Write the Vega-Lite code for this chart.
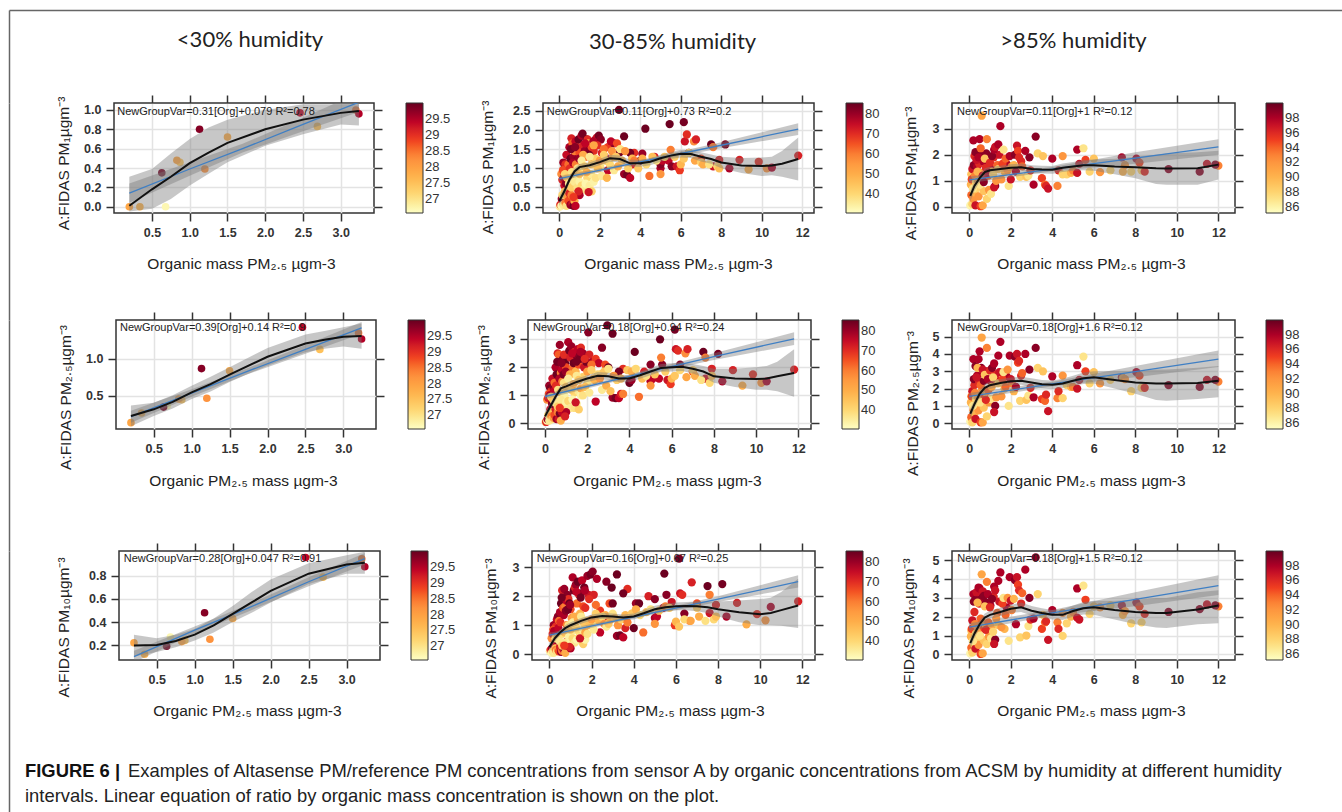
{"$schema":"https://vega.github.io/schema/vega-lite/v6.json","padding":{"left":9,"top":10,"right":0,"bottom":0},"background":"white","bounds":"flush","spacing":0,
"resolve":{"scale":{"color":"independent"},"legend":{"color":"independent"}},
"config":{"font":"Liberation Sans","view":{"stroke":"#333","strokeWidth":1.5},"axis":{"domain":false,"grid":true,"gridColor":"#e3e3e3","gridWidth":1.5,"tickColor":"#333","tickWidth":1.5,"tickSize":8,"labelFontSize":12.5,"labelFontWeight":"bold","labelColor":"#333","labelPadding":5,"labelOverlap":false,"labelFlush":false,"titleFontSize":15.5,"titleFontWeight":"normal","titleColor":"#222","titleBaseline":"middle","titleAlign":"center"},"legend":{"orient":"none","gradientLength":110,"gradientThickness":17,"gradientStrokeColor":"#333","gradientStrokeWidth":1,"labelFontSize":13,"labelColor":"#333","labelOffset":6,"padding":0}},
"datasets":{
"low":[{"org":0.2,"rh":27.9,"pm1":0.0,"pm25":0.14,"pm10":0.22},{"org":0.34,"rh":27.7,"pm1":0.0,"pm25":0.27,"pm10":0.12},{"org":0.68,"rh":26.7,"pm1":0.0,"pm25":0.37,"pm10":0.27},{"org":0.63,"rh":29.9,"pm1":0.35,"pm25":0.35,"pm10":0.19},{"org":0.87,"rh":27.4,"pm1":0.46,"pm25":0.45,"pm10":0.24},{"org":0.83,"rh":27.9,"pm1":0.48,"pm25":0.46,"pm10":0.23},{"org":1.13,"rh":29.8,"pm1":0.8,"pm25":0.87,"pm10":0.48},{"org":1.2,"rh":28.2,"pm1":0.39,"pm25":0.47,"pm10":0.25},{"org":1.5,"rh":27.8,"pm1":0.72,"pm25":0.84,"pm10":0.43},{"org":2.46,"rh":29.4,"pm1":0.97,"pm25":1.43,"pm10":0.96},{"org":2.69,"rh":27.5,"pm1":0.83,"pm25":1.13,"pm10":0.79},{"org":3.2,"rh":28.5,"pm1":1.0,"pm25":1.35,"pm10":0.95},{"org":3.24,"rh":29.5,"pm1":0.96,"pm25":1.27,"pm10":0.88}],
"mid":[{"org":0.02,"rh":35,"pm1":0,"pm25":0.05,"pm10":0.1},{"org":0.05,"rh":70,"pm1":0.05,"pm25":0.05,"pm10":0.15},{"org":0.1,"rh":33,"pm1":0.02,"pm25":0.1,"pm10":0.05},{"org":0.12,"rh":80,"pm1":0.2,"pm25":0.15,"pm10":0.2},{"org":0.15,"rh":40,"pm1":0.3,"pm25":0.3,"pm10":0.1},{"org":0.2,"rh":36,"pm1":0.05,"pm25":0.1,"pm10":0.05},{"org":0.25,"rh":75,"pm1":0.55,"pm25":0.5,"pm10":0.35},{"org":0.28,"rh":45,"pm1":0.4,"pm25":0.4,"pm10":0.2},{"org":0.3,"rh":60,"pm1":0.1,"pm25":0.25,"pm10":0.15},{"org":0.35,"rh":38,"pm1":0.02,"pm25":0.15,"pm10":0.1},{"org":0.4,"rh":55,"pm1":0.25,"pm25":0.2,"pm10":0.15},{"org":0.45,"rh":66,"pm1":0.15,"pm25":0.3,"pm10":0.1},{"org":0.5,"rh":72,"pm1":0.35,"pm25":0.5,"pm10":0.25},{"org":0.55,"rh":80,"pm1":0.05,"pm25":0.15,"pm10":0.08},{"org":0.6,"rh":60,"pm1":0.3,"pm25":0.4,"pm10":0.12},{"org":0.65,"rh":74,"pm1":0.08,"pm25":0.15,"pm10":0.18},{"org":0.7,"rh":84,"pm1":0.02,"pm25":0.35,"pm10":0.22},{"org":0.75,"rh":50,"pm1":0.15,"pm25":0.1,"pm10":0.05},{"org":0.8,"rh":76,"pm1":0.02,"pm25":0.4,"pm10":0.3},{"org":0.85,"rh":70,"pm1":0.5,"pm25":0.7,"pm10":0.45},{"org":0.1,"rh":58,"pm1":0.85,"pm25":0.85,"pm10":0.55},{"org":0.15,"rh":72,"pm1":0.7,"pm25":0.9,"pm10":0.7},{"org":0.2,"rh":80,"pm1":1.15,"pm25":1.35,"pm10":1.0},{"org":0.25,"rh":84,"pm1":1.0,"pm25":1.25,"pm10":0.9},{"org":0.3,"rh":70,"pm1":1.1,"pm25":1.15,"pm10":0.95},{"org":0.35,"rh":75,"pm1":1.35,"pm25":1.6,"pm10":1.2},{"org":0.4,"rh":82,"pm1":0.95,"pm25":1.3,"pm10":1.3},{"org":0.45,"rh":62,"pm1":1.1,"pm25":1.45,"pm10":1.15},{"org":0.5,"rh":78,"pm1":1.55,"pm25":2.0,"pm10":1.45},{"org":0.55,"rh":85,"pm1":1.25,"pm25":1.75,"pm10":1.75},{"org":0.6,"rh":72,"pm1":1.78,"pm25":2.5,"pm10":2.2},{"org":0.65,"rh":64,"pm1":1.65,"pm25":2.45,"pm10":1.6},{"org":0.7,"rh":80,"pm1":1.3,"pm25":2.8,"pm10":2.25},{"org":0.75,"rh":60,"pm1":1.45,"pm25":1.8,"pm10":1.65},{"org":0.8,"rh":76,"pm1":1.7,"pm25":1.9,"pm10":1.85},{"org":0.85,"rh":82,"pm1":1.2,"pm25":2.3,"pm10":2.05},{"org":0.9,"rh":70,"pm1":1.55,"pm25":2.45,"pm10":1.9},{"org":0.95,"rh":85,"pm1":1.75,"pm25":2.15,"pm10":1.75},{"org":1.0,"rh":66,"pm1":1.4,"pm25":2.0,"pm10":1.55},{"org":1.05,"rh":56,"pm1":1.15,"pm25":1.6,"pm10":1.25},{"org":1.1,"rh":78,"pm1":1.85,"pm25":2.9,"pm10":2.65},{"org":1.15,"rh":84,"pm1":1.9,"pm25":2.6,"pm10":2.2},{"org":1.2,"rh":72,"pm1":1.6,"pm25":2.35,"pm10":2.3},{"org":1.25,"rh":80,"pm1":1.45,"pm25":2.75,"pm10":2.4},{"org":1.3,"rh":62,"pm1":1.3,"pm25":1.95,"pm10":1.75},{"org":1.35,"rh":85,"pm1":1.75,"pm25":2.15,"pm10":2.5},{"org":1.4,"rh":70,"pm1":1.75,"pm25":2.55,"pm10":2.05},{"org":1.45,"rh":48,"pm1":1.65,"pm25":1.85,"pm10":1.4},{"org":1.5,"rh":82,"pm1":1.5,"pm25":2.4,"pm10":2.1},{"org":1.55,"rh":76,"pm1":1.3,"pm25":2.65,"pm10":2.55},{"org":1.6,"rh":66,"pm1":1.55,"pm25":2.1,"pm10":1.65},{"org":1.65,"rh":84,"pm1":1.2,"pm25":2.3,"pm10":2.3},{"org":1.7,"rh":70,"pm1":1.45,"pm25":2.7,"pm10":1.6},{"org":1.8,"rh":80,"pm1":1.75,"pm25":2.5,"pm10":2.7},{"org":1.85,"rh":74,"pm1":1.8,"pm25":2.0,"pm10":2.05},{"org":1.95,"rh":84,"pm1":1.85,"pm25":2.2,"pm10":2.75},{"org":2.05,"rh":82,"pm1":1.75,"pm25":3.25,"pm10":2.85},{"org":2.1,"rh":72,"pm1":1.4,"pm25":2.45,"pm10":2.05},{"org":2.25,"rh":78,"pm1":1.3,"pm25":2.2,"pm10":2.6},{"org":2.4,"rh":68,"pm1":1.55,"pm25":2.3,"pm10":1.5},{"org":2.7,"rh":82,"pm1":1.65,"pm25":2.7,"pm10":2.5},{"org":2.55,"rh":76,"pm1":1.7,"pm25":2.15,"pm10":1.25},{"org":2.85,"rh":66,"pm1":1.65,"pm25":2.1,"pm10":1.75},{"org":2.95,"rh":85,"pm1":2.52,"pm25":3.5,"pm10":2.3},{"org":3.0,"rh":84,"pm1":1.42,"pm25":2.0,"pm10":1.75},{"org":3.2,"rh":85,"pm1":1.83,"pm25":3.2,"pm10":2.75},{"org":0.18,"rh":66,"pm1":0.95,"pm25":1.05,"pm10":0.85},{"org":0.22,"rh":78,"pm1":0.75,"pm25":1.0,"pm10":0.8},{"org":0.33,"rh":82,"pm1":0.6,"pm25":0.7,"pm10":0.5},{"org":0.42,"rh":76,"pm1":0.85,"pm25":1.15,"pm10":0.9},{"org":0.52,"rh":70,"pm1":1.0,"pm25":1.35,"pm10":1.1},{"org":0.58,"rh":84,"pm1":1.5,"pm25":2.2,"pm10":1.95},{"org":0.68,"rh":78,"pm1":1.15,"pm25":1.6,"pm10":1.35},{"org":0.78,"rh":82,"pm1":1.55,"pm25":2.15,"pm10":1.5},{"org":0.82,"rh":60,"pm1":1.1,"pm25":1.5,"pm10":1.0},{"org":0.88,"rh":84,"pm1":0.95,"pm25":1.75,"pm10":1.55},{"org":0.98,"rh":80,"pm1":1.25,"pm25":1.85,"pm10":1.7},{"org":1.28,"rh":76,"pm1":1.65,"pm25":2.5,"pm10":2.15},{"org":1.48,"rh":84,"pm1":1.35,"pm25":2.2,"pm10":1.95},{"org":1.68,"rh":78,"pm1":1.7,"pm25":2.55,"pm10":2.2},{"org":1.88,"rh":70,"pm1":1.6,"pm25":2.3,"pm10":1.9},{"org":2.2,"rh":62,"pm1":1.5,"pm25":2.1,"pm10":1.7},{"org":2.4,"rh":76,"pm1":0.95,"pm25":0.78,"pm10":0.75},{"org":3.2,"rh":80,"pm1":0.85,"pm25":0.92,"pm10":0.63},{"org":3.35,"rh":84,"pm1":0.83,"pm25":0.9,"pm10":0.65},{"org":3.5,"rh":76,"pm1":0.75,"pm25":0.9,"pm10":0.58},{"org":3.6,"rh":72,"pm1":1.1,"pm25":1.05,"pm10":0.9},{"org":3.7,"rh":70,"pm1":1.4,"pm25":1.95,"pm10":2.25},{"org":3.5,"rh":84,"pm1":1.4,"pm25":1.85,"pm10":2.1},{"org":4.0,"rh":85,"pm1":1.2,"pm25":1.45,"pm10":0.9},{"org":4.1,"rh":80,"pm1":1.38,"pm25":1.55,"pm10":1.75},{"org":4.25,"rh":85,"pm1":2.03,"pm25":2.55,"pm10":1.75},{"org":4.7,"rh":72,"pm1":1.3,"pm25":1.85,"pm10":2.0},{"org":5.0,"rh":78,"pm1":1.0,"pm25":1.5,"pm10":1.25},{"org":5.0,"rh":82,"pm1":1.1,"pm25":2.1,"pm10":1.9},{"org":5.1,"rh":76,"pm1":1.2,"pm25":1.6,"pm10":1.3},{"org":5.45,"rh":85,"pm1":2.15,"pm25":3.0,"pm10":2.78},{"org":5.4,"rh":76,"pm1":1.2,"pm25":1.6,"pm10":1.6},{"org":5.55,"rh":82,"pm1":1.05,"pm25":2.1,"pm10":2.05},{"org":5.8,"rh":74,"pm1":1.05,"pm25":1.55,"pm10":1.8},{"org":5.95,"rh":68,"pm1":0.95,"pm25":1.4,"pm10":1.0},{"org":6.15,"rh":84,"pm1":2.2,"pm25":3.35,"pm10":3.3},{"org":6.2,"rh":74,"pm1":1.7,"pm25":2.65,"pm10":2.1},{"org":6.3,"rh":70,"pm1":1.88,"pm25":2.6,"pm10":2.05},{"org":6.4,"rh":82,"pm1":1.4,"pm25":2.1,"pm10":1.4},{"org":6.65,"rh":58,"pm1":1.7,"pm25":2.5,"pm10":1.15},{"org":6.75,"rh":72,"pm1":1.75,"pm25":2.65,"pm10":2.48},{"org":7.0,"rh":66,"pm1":1.25,"pm25":1.85,"pm10":1.75},{"org":7.5,"rh":85,"pm1":1.62,"pm25":2.55,"pm10":2.35},{"org":7.6,"rh":60,"pm1":1.55,"pm25":2.35,"pm10":2.05},{"org":7.6,"rh":74,"pm1":1.05,"pm25":1.6,"pm10":1.42},{"org":7.9,"rh":72,"pm1":1.22,"pm25":1.95,"pm10":1.7},{"org":8.2,"rh":84,"pm1":1.62,"pm25":2.48,"pm10":2.42},{"org":8.4,"rh":78,"pm1":1.0,"pm25":1.5,"pm10":1.3},{"org":8.9,"rh":72,"pm1":1.22,"pm25":1.9,"pm10":1.77},{"org":9.35,"rh":50,"pm1":0.97,"pm25":1.35,"pm10":1.03},{"org":9.85,"rh":70,"pm1":1.17,"pm25":1.75,"pm10":1.38},{"org":10.25,"rh":56,"pm1":1.0,"pm25":1.45,"pm10":1.17},{"org":10.5,"rh":78,"pm1":1.02,"pm25":1.5,"pm10":1.63},{"org":11.8,"rh":72,"pm1":1.33,"pm25":1.92,"pm10":1.82},{"org":0.28,"rh":40,"pm1":0.85,"pm25":0.95,"pm10":0.55},{"org":0.38,"rh":44,"pm1":0.75,"pm25":0.85,"pm10":0.6},{"org":0.48,"rh":36,"pm1":0.6,"pm25":0.75,"pm10":0.45},{"org":0.62,"rh":38,"pm1":0.9,"pm25":1.2,"pm10":0.7},{"org":0.72,"rh":46,"pm1":0.8,"pm25":1.1,"pm10":0.75},{"org":0.92,"rh":34,"pm1":0.75,"pm25":1.0,"pm10":0.6},{"org":1.08,"rh":36,"pm1":0.9,"pm25":1.25,"pm10":0.8},{"org":1.18,"rh":50,"pm1":1.35,"pm25":1.75,"pm10":1.3},{"org":1.38,"rh":40,"pm1":0.75,"pm25":1.1,"pm10":0.8},{"org":1.58,"rh":36,"pm1":0.85,"pm25":1.15,"pm10":0.85},{"org":1.78,"rh":42,"pm1":1.25,"pm25":1.65,"pm10":1.15},{"org":2.02,"rh":38,"pm1":1.05,"pm25":1.45,"pm10":1.1},{"org":2.3,"rh":46,"pm1":1.2,"pm25":1.6,"pm10":1.25},{"org":2.65,"rh":50,"pm1":1.3,"pm25":1.75,"pm10":1.35},{"org":0.6,"rh":42,"pm1":0.5,"pm25":0.6,"pm10":0.3},{"org":0.75,"rh":36,"pm1":0.65,"pm25":0.85,"pm10":0.4},{"org":0.9,"rh":38,"pm1":0.5,"pm25":0.6,"pm10":0.35},{"org":1.0,"rh":34,"pm1":0.65,"pm25":0.75,"pm10":0.5},{"org":1.1,"rh":40,"pm1":0.55,"pm25":0.8,"pm10":0.55},{"org":1.2,"rh":36,"pm1":0.45,"pm25":0.55,"pm10":0.4},{"org":1.3,"rh":33,"pm1":0.6,"pm25":0.85,"pm10":0.5},{"org":1.4,"rh":38,"pm1":0.4,"pm25":0.55,"pm10":0.6},{"org":1.5,"rh":35,"pm1":0.55,"pm25":0.7,"pm10":0.45},{"org":1.6,"rh":42,"pm1":0.4,"pm25":0.5,"pm10":0.35},{"org":1.7,"rh":34,"pm1":0.65,"pm25":1.0,"pm10":0.5},{"org":1.45,"rh":74,"pm1":0.38,"pm25":0.75,"pm10":0.55},{"org":1.0,"rh":78,"pm1":0.3,"pm25":0.4,"pm10":0.2},{"org":0.95,"rh":72,"pm1":0.4,"pm25":0.25,"pm10":0.25},{"org":0.7,"rh":68,"pm1":0.25,"pm25":0.55,"pm10":0.3},{"org":0.9,"rh":38,"pm1":1.0,"pm25":1.45,"pm10":1.0},{"org":1.0,"rh":46,"pm1":0.85,"pm25":1.3,"pm10":0.85},{"org":1.1,"rh":35,"pm1":1.2,"pm25":1.6,"pm10":1.1},{"org":1.25,"rh":42,"pm1":1.05,"pm25":1.2,"pm10":0.95},{"org":1.35,"rh":50,"pm1":0.9,"pm25":1.4,"pm10":1.2},{"org":1.5,"rh":36,"pm1":1.3,"pm25":1.7,"pm10":1.3},{"org":1.6,"rh":44,"pm1":1.1,"pm25":1.55,"pm10":1.1},{"org":1.7,"rh":52,"pm1":1.6,"pm25":1.25,"pm10":0.75},{"org":1.8,"rh":38,"pm1":0.75,"pm25":1.0,"pm10":0.7},{"org":1.9,"rh":46,"pm1":1.0,"pm25":1.3,"pm10":1.0},{"org":2.0,"rh":54,"pm1":1.2,"pm25":1.85,"pm10":1.2},{"org":2.1,"rh":36,"pm1":0.8,"pm25":1.1,"pm10":0.85},{"org":2.2,"rh":42,"pm1":1.35,"pm25":1.9,"pm10":1.4},{"org":2.35,"rh":48,"pm1":0.75,"pm25":1.55,"pm10":1.15},{"org":2.5,"rh":40,"pm1":1.1,"pm25":1.75,"pm10":1.3},{"org":2.6,"rh":56,"pm1":1.45,"pm25":1.6,"pm10":1.05},{"org":2.7,"rh":36,"pm1":0.95,"pm25":1.2,"pm10":0.95},{"org":2.8,"rh":44,"pm1":1.3,"pm25":1.85,"pm10":1.05},{"org":2.9,"rh":50,"pm1":1.05,"pm25":1.35,"pm10":1.2},{"org":3.0,"rh":38,"pm1":1.5,"pm25":1.95,"pm10":1.4},{"org":3.1,"rh":46,"pm1":1.2,"pm25":1.15,"pm10":1.25},{"org":3.25,"rh":56,"pm1":1.45,"pm25":1.7,"pm10":1.0},{"org":3.4,"rh":42,"pm1":1.0,"pm25":1.55,"pm10":1.2},{"org":3.6,"rh":48,"pm1":1.25,"pm25":1.6,"pm10":1.35},{"org":3.7,"rh":60,"pm1":1.2,"pm25":1.05,"pm10":1.1},{"org":3.9,"rh":44,"pm1":1.0,"pm25":1.9,"pm10":1.4},{"org":4.1,"rh":50,"pm1":1.25,"pm25":1.85,"pm10":1.55},{"org":4.3,"rh":40,"pm1":1.1,"pm25":1.95,"pm10":1.35},{"org":4.45,"rh":62,"pm1":0.8,"pm25":0.95,"pm10":0.75},{"org":4.6,"rh":46,"pm1":1.3,"pm25":1.6,"pm10":1.45},{"org":4.8,"rh":38,"pm1":1.2,"pm25":1.7,"pm10":1.55},{"org":5.0,"rh":56,"pm1":0.85,"pm25":1.35,"pm10":1.05},{"org":5.2,"rh":44,"pm1":1.3,"pm25":1.75,"pm10":1.5},{"org":5.5,"rh":60,"pm1":1.48,"pm25":2.35,"pm10":1.65},{"org":5.7,"rh":42,"pm1":1.3,"pm25":1.85,"pm10":1.6},{"org":6.0,"rh":48,"pm1":1.1,"pm25":1.6,"pm10":1.12},{"org":6.15,"rh":44,"pm1":1.25,"pm25":1.7,"pm10":0.95},{"org":6.4,"rh":40,"pm1":1.4,"pm25":1.9,"pm10":1.2},{"org":6.7,"rh":52,"pm1":1.2,"pm25":1.65,"pm10":1.15},{"org":7.0,"rh":42,"pm1":1.15,"pm25":1.9,"pm10":1.6},{"org":7.1,"rh":50,"pm1":1.1,"pm25":1.7,"pm10":1.3},{"org":7.4,"rh":38,"pm1":1.1,"pm25":1.55,"pm10":1.15},{"org":7.8,"rh":40,"pm1":1.05,"pm25":1.45,"pm10":1.2},{"org":7.9,"rh":46,"pm1":1.0,"pm25":1.7,"pm10":1.3}],
"high":[{"org":0.05,"rh":86,"pm1":0.05,"pm25":0.1,"pm10":0.05},{"org":0.1,"rh":94,"pm1":0.45,"pm25":0.35,"pm10":0.35},{"org":0.15,"rh":88,"pm1":0.1,"pm25":0.05,"pm10":0.1},{"org":0.2,"rh":92,"pm1":0.3,"pm25":0.75,"pm10":0.6},{"org":0.25,"rh":90,"pm1":0.55,"pm25":0.6,"pm10":0.5},{"org":0.3,"rh":97,"pm1":0.05,"pm25":0.25,"pm10":0.3},{"org":0.35,"rh":88,"pm1":0.7,"pm25":1.05,"pm10":0.85},{"org":0.45,"rh":92,"pm1":0.4,"pm25":0.75,"pm10":0.5},{"org":0.55,"rh":95,"pm1":0.02,"pm25":0.05,"pm10":0.02},{"org":0.65,"rh":91,"pm1":0.05,"pm25":0.05,"pm10":0.05},{"org":0.7,"rh":89,"pm1":0.6,"pm25":0.9,"pm10":0.75},{"org":0.85,"rh":88,"pm1":0.3,"pm25":0.4,"pm10":0.55},{"org":0.95,"rh":92,"pm1":0.65,"pm25":1.2,"pm10":0.95},{"org":1.05,"rh":87,"pm1":0.5,"pm25":1.4,"pm10":0.85},{"org":1.25,"rh":99,"pm1":0.8,"pm25":1.0,"pm10":0.78},{"org":1.2,"rh":97,"pm1":0.75,"pm25":0.65,"pm10":0.55},{"org":0.1,"rh":89,"pm1":1.25,"pm25":1.55,"pm10":1.25},{"org":0.15,"rh":97,"pm1":1.45,"pm25":1.85,"pm10":1.8},{"org":0.2,"rh":92,"pm1":1.1,"pm25":1.5,"pm10":1.3},{"org":0.25,"rh":96,"pm1":1.95,"pm25":2.2,"pm10":2.25},{"org":0.08,"rh":90,"pm1":0.85,"pm25":1.2,"pm10":0.95},{"org":0.12,"rh":95,"pm1":1.05,"pm25":1.55,"pm10":1.35},{"org":0.18,"rh":87,"pm1":0.7,"pm25":1.0,"pm10":0.7},{"org":0.22,"rh":99,"pm1":1.6,"pm25":2.55,"pm10":2.8},{"org":0.28,"rh":93,"pm1":1.2,"pm25":1.75,"pm10":1.6},{"org":0.32,"rh":88,"pm1":0.95,"pm25":1.4,"pm10":1.1},{"org":0.38,"rh":98,"pm1":1.55,"pm25":2.75,"pm10":2.95},{"org":0.42,"rh":91,"pm1":1.0,"pm25":1.5,"pm10":1.3},{"org":0.48,"rh":96,"pm1":1.65,"pm25":2.4,"pm10":2.7},{"org":0.52,"rh":87,"pm1":0.85,"pm25":1.2,"pm10":1.0},{"org":0.58,"rh":99,"pm1":2.0,"pm25":3.2,"pm10":3.05},{"org":0.62,"rh":92,"pm1":1.3,"pm25":1.95,"pm10":1.7},{"org":0.68,"rh":98,"pm1":1.75,"pm25":2.9,"pm10":2.8},{"org":0.72,"rh":95,"pm1":1.1,"pm25":1.65,"pm10":1.4},{"org":0.78,"rh":90,"pm1":1.3,"pm25":1.8,"pm10":1.6},{"org":0.82,"rh":99,"pm1":2.05,"pm25":3.0,"pm10":2.75},{"org":0.92,"rh":94,"pm1":1.2,"pm25":1.9,"pm10":1.7},{"org":1.02,"rh":98,"pm1":1.5,"pm25":2.45,"pm10":2.6},{"org":1.08,"rh":91,"pm1":1.35,"pm25":2.1,"pm10":1.45},{"org":1.18,"rh":96,"pm1":1.9,"pm25":2.85,"pm10":3.05},{"org":1.35,"rh":94,"pm1":1.6,"pm25":2.35,"pm10":2.2},{"org":1.45,"rh":97,"pm1":2.0,"pm25":2.95,"pm10":2.8},{"org":1.7,"rh":90,"pm1":1.35,"pm25":2.0,"pm10":1.35},{"org":1.8,"rh":98,"pm1":1.65,"pm25":2.7,"pm10":2.5},{"org":2.05,"rh":93,"pm1":1.55,"pm25":2.3,"pm10":2.35},{"org":2.5,"rh":96,"pm1":1.75,"pm25":2.75,"pm10":2.7},{"org":0.2,"rh":98,"pm1":2.55,"pm25":3.7,"pm10":3.2},{"org":0.3,"rh":99,"pm1":2.1,"pm25":3.3,"pm10":2.9},{"org":0.35,"rh":97,"pm1":1.8,"pm25":2.65,"pm10":3.3},{"org":0.4,"rh":90,"pm1":1.35,"pm25":3.2,"pm10":2.75},{"org":0.45,"rh":98,"pm1":1.9,"pm25":3.7,"pm10":3.55},{"org":0.5,"rh":98,"pm1":2.6,"pm25":4.15,"pm10":3.5},{"org":0.55,"rh":94,"pm1":2.25,"pm25":2.2,"pm10":1.9},{"org":0.6,"rh":91,"pm1":3.5,"pm25":4.95,"pm10":4.25},{"org":0.65,"rh":97,"pm1":1.2,"pm25":3.1,"pm10":3.35},{"org":0.7,"rh":99,"pm1":0.95,"pm25":2.45,"pm10":3.1},{"org":0.75,"rh":89,"pm1":1.85,"pm25":2.8,"pm10":2.55},{"org":0.8,"rh":96,"pm1":1.5,"pm25":1.35,"pm10":1.3},{"org":0.85,"rh":93,"pm1":2.6,"pm25":4.35,"pm10":3.85},{"org":0.9,"rh":98,"pm1":1.3,"pm25":2.55,"pm10":3.2},{"org":1.0,"rh":96,"pm1":1.7,"pm25":3.05,"pm10":2.5},{"org":1.1,"rh":99,"pm1":1.95,"pm25":3.2,"pm10":2.95},{"org":1.2,"rh":98,"pm1":2.2,"pm25":3.45,"pm10":3.6},{"org":1.25,"rh":97,"pm1":2.3,"pm25":2.6,"pm10":3.4},{"org":1.4,"rh":98,"pm1":2.4,"pm25":3.9,"pm10":3.9},{"org":1.15,"rh":88,"pm1":1.25,"pm25":2.65,"pm10":1.2},{"org":1.3,"rh":92,"pm1":1.0,"pm25":1.5,"pm10":1.9},{"org":1.4,"rh":89,"pm1":1.45,"pm25":2.3,"pm10":1.55},{"org":1.5,"rh":98,"pm1":3.1,"pm25":4.7,"pm10":4.35},{"org":1.6,"rh":95,"pm1":1.65,"pm25":2.55,"pm10":2.7},{"org":1.55,"rh":92,"pm1":1.05,"pm25":1.55,"pm10":1.45},{"org":1.65,"rh":87,"pm1":2.2,"pm25":2.95,"pm10":3.0},{"org":1.75,"rh":94,"pm1":1.85,"pm25":2.1,"pm10":2.1},{"org":1.85,"rh":92,"pm1":1.4,"pm25":3.1,"pm10":3.0},{"org":1.9,"rh":87,"pm1":0.8,"pm25":1.0,"pm10":0.72},{"org":1.95,"rh":98,"pm1":1.95,"pm25":3.9,"pm10":4.1},{"org":2.0,"rh":97,"pm1":1.05,"pm25":2.55,"pm10":2.85},{"org":2.2,"rh":99,"pm1":2.0,"pm25":3.85,"pm10":3.95},{"org":2.15,"rh":90,"pm1":1.6,"pm25":1.85,"pm10":2.95},{"org":2.3,"rh":97,"pm1":2.35,"pm25":4.0,"pm10":4.1},{"org":2.35,"rh":95,"pm1":2.15,"pm25":3.5,"pm10":3.7},{"org":2.25,"rh":98,"pm1":1.35,"pm25":2.1,"pm10":1.6},{"org":2.4,"rh":96,"pm1":1.9,"pm25":3.6,"pm10":3.4},{"org":2.45,"rh":88,"pm1":1.15,"pm25":1.3,"pm10":0.9},{"org":2.55,"rh":94,"pm1":1.55,"pm25":2.9,"pm10":3.25},{"org":2.7,"rh":98,"pm1":2.15,"pm25":4.0,"pm10":4.5},{"org":2.75,"rh":89,"pm1":1.15,"pm25":1.35,"pm10":1.0},{"org":2.85,"rh":87,"pm1":1.2,"pm25":1.6,"pm10":1.5},{"org":2.9,"rh":99,"pm1":1.9,"pm25":3.1,"pm10":3.0},{"org":2.95,"rh":96,"pm1":1.4,"pm25":2.05,"pm10":1.85},{"org":3.1,"rh":98,"pm1":0.85,"pm25":1.5,"pm10":1.9},{"org":3.2,"rh":99,"pm1":2.7,"pm25":4.35,"pm10":5.15},{"org":3.3,"rh":88,"pm1":2.05,"pm25":3.2,"pm10":3.2},{"org":3.55,"rh":89,"pm1":1.95,"pm25":3.0,"pm10":2.1},{"org":3.5,"rh":95,"pm1":1.1,"pm25":1.4,"pm10":1.35},{"org":3.65,"rh":94,"pm1":0.85,"pm25":1.3,"pm10":1.7},{"org":3.7,"rh":96,"pm1":0.8,"pm25":1.65,"pm10":1.75},{"org":3.8,"rh":97,"pm1":0.7,"pm25":0.7,"pm10":0.77},{"org":4.0,"rh":98,"pm1":1.85,"pm25":2.7,"pm10":2.35},{"org":4.25,"rh":93,"pm1":0.8,"pm25":1.45,"pm10":1.7},{"org":4.3,"rh":96,"pm1":1.4,"pm25":1.85,"pm10":1.35},{"org":4.5,"rh":92,"pm1":1.95,"pm25":2.75,"pm10":2.2},{"org":4.5,"rh":88,"pm1":1.25,"pm25":1.45,"pm10":0.98},{"org":4.7,"rh":88,"pm1":1.25,"pm25":2.2,"pm10":1.65},{"org":4.9,"rh":90,"pm1":1.3,"pm25":2.1,"pm10":2.0},{"org":5.0,"rh":93,"pm1":1.4,"pm25":2.1,"pm10":2.25},{"org":5.2,"rh":97,"pm1":1.3,"pm25":2.0,"pm10":1.95},{"org":5.2,"rh":98,"pm1":2.2,"pm25":3.35,"pm10":3.5},{"org":5.3,"rh":97,"pm1":1.65,"pm25":2.5,"pm10":1.85},{"org":5.5,"rh":87,"pm1":2.25,"pm25":3.85,"pm10":3.65},{"org":5.6,"rh":95,"pm1":1.8,"pm25":3.0,"pm10":2.9},{"org":5.8,"rh":88,"pm1":1.35,"pm25":2.3,"pm10":2.15},{"org":6.0,"rh":89,"pm1":1.85,"pm25":2.95,"pm10":2.55},{"org":6.3,"rh":92,"pm1":1.33,"pm25":2.3,"pm10":2.5},{"org":6.8,"rh":88,"pm1":1.4,"pm25":2.5,"pm10":2.6},{"org":7.35,"rh":98,"pm1":1.9,"pm25":2.65,"pm10":2.6},{"org":7.4,"rh":90,"pm1":1.35,"pm25":2.6,"pm10":2.1},{"org":7.5,"rh":92,"pm1":1.6,"pm25":2.55,"pm10":2.3},{"org":7.8,"rh":88,"pm1":1.35,"pm25":1.85,"pm10":1.65},{"org":8.05,"rh":98,"pm1":1.85,"pm25":2.95,"pm10":2.75},{"org":8.2,"rh":95,"pm1":1.7,"pm25":2.75,"pm10":2.55},{"org":8.3,"rh":88,"pm1":1.4,"pm25":2.05,"pm10":1.7},{"org":8.45,"rh":96,"pm1":1.35,"pm25":2.05,"pm10":2.15},{"org":9.6,"rh":99,"pm1":1.45,"pm25":2.2,"pm10":2.25},{"org":11.1,"rh":99,"pm1":1.35,"pm25":2.1,"pm10":2.4},{"org":11.45,"rh":97,"pm1":1.65,"pm25":2.5,"pm10":2.65},{"org":12.0,"rh":93,"pm1":1.58,"pm25":2.4,"pm10":2.55},{"org":11.85,"rh":99,"pm1":1.62,"pm25":2.5,"pm10":2.6}],
"s1":[{"org":0.2,"s":0.01,"sl":-0.05,"sh":0.31},{"org":0.5,"s":0.18,"sl":-0.02,"sh":0.39},{"org":0.75,"s":0.31,"sl":0.08,"sh":0.55},{"org":1.0,"s":0.45,"sl":0.22,"sh":0.7},{"org":1.25,"s":0.56,"sl":0.34,"sh":0.82},{"org":1.5,"s":0.66,"sl":0.46,"sh":0.9},{"org":2.0,"s":0.8,"sl":0.63,"sh":1.0},{"org":2.5,"s":0.9,"sl":0.75,"sh":1.06},{"org":3.0,"s":0.97,"sl":0.85,"sh":1.06},{"org":3.24,"s":0.99,"sl":0.84,"sh":1.06}],
"f1":[{"org":0.2,"f":0.14,"fl":0.04,"fh":0.24},{"org":1.0,"f":0.39,"fl":0.32,"fh":0.46},{"org":1.7,"f":0.6,"fl":0.56,"fh":0.65},{"org":2.5,"f":0.85,"fl":0.78,"fh":0.92},{"org":3.24,"f":1.08,"fl":0.98,"fh":1.18}],
"s4":[{"org":0.2,"s":0.23,"sl":0.09,"sh":0.37},{"org":0.5,"s":0.32,"sl":0.23,"sh":0.41},{"org":0.75,"s":0.42,"sl":0.33,"sh":0.51},{"org":1.0,"s":0.55,"sl":0.46,"sh":0.64},{"org":1.25,"s":0.66,"sl":0.56,"sh":0.76},{"org":1.5,"s":0.79,"sl":0.69,"sh":0.89},{"org":2.0,"s":1.03,"sl":0.91,"sh":1.15},{"org":2.5,"s":1.21,"sl":1.09,"sh":1.33},{"org":2.75,"s":1.26,"sl":1.14,"sh":1.38},{"org":3.0,"s":1.3,"sl":1.17,"sh":1.43},{"org":3.24,"s":1.31,"sl":1.14,"sh":1.48}],
"f4":[{"org":0.2,"f":0.22,"fl":0.14,"fh":0.3},{"org":1.0,"f":0.54,"fl":0.49,"fh":0.59},{"org":1.7,"f":0.82,"fl":0.78,"fh":0.86},{"org":2.5,"f":1.13,"fl":1.07,"fh":1.19},{"org":3.24,"f":1.42,"fl":1.34,"fh":1.5}],
"s7":[{"org":0.2,"s":0.195,"sl":0.1,"sh":0.29},{"org":0.5,"s":0.2,"sl":0.14,"sh":0.26},{"org":0.75,"s":0.235,"sl":0.18,"sh":0.29},{"org":1.0,"s":0.29,"sl":0.24,"sh":0.34},{"org":1.25,"s":0.37,"sl":0.31,"sh":0.43},{"org":1.5,"s":0.47,"sl":0.4,"sh":0.54},{"org":1.75,"s":0.57,"sl":0.48,"sh":0.66},{"org":2.0,"s":0.67,"sl":0.57,"sh":0.77},{"org":2.5,"s":0.82,"sl":0.73,"sh":0.91},{"org":3.0,"s":0.9,"sl":0.82,"sh":0.98},{"org":3.24,"s":0.915,"sl":0.82,"sh":1.01}],
"f7":[{"org":0.2,"f":0.1,"fl":0.05,"fh":0.15},{"org":1.0,"f":0.33,"fl":0.3,"fh":0.36},{"org":1.7,"f":0.52,"fl":0.49,"fh":0.55},{"org":2.5,"f":0.75,"fl":0.71,"fh":0.79},{"org":3.24,"f":0.95,"fl":0.9,"fh":1.0}],
"s2":[{"org":0,"s":0.15,"sl":0.02,"sh":0.28},{"org":0.25,"s":0.4,"sl":0.3,"sh":0.5},{"org":0.5,"s":0.7,"sl":0.62,"sh":0.78},{"org":0.75,"s":0.92,"sl":0.84,"sh":1.0},{"org":1,"s":1.03,"sl":0.95,"sh":1.11},{"org":1.5,"s":1.08,"sl":1.0,"sh":1.16},{"org":2,"s":1.16,"sl":1.08,"sh":1.24},{"org":2.5,"s":1.26,"sl":1.17,"sh":1.35},{"org":3,"s":1.24,"sl":1.15,"sh":1.33},{"org":3.5,"s":1.13,"sl":1.04,"sh":1.22},{"org":4,"s":1.13,"sl":1.04,"sh":1.22},{"org":4.5,"s":1.17,"sl":1.08,"sh":1.26},{"org":5,"s":1.26,"sl":1.17,"sh":1.35},{"org":5.5,"s":1.33,"sl":1.24,"sh":1.42},{"org":6,"s":1.38,"sl":1.28,"sh":1.48},{"org":6.5,"s":1.37,"sl":1.27,"sh":1.47},{"org":7,"s":1.3,"sl":1.18,"sh":1.42},{"org":7.5,"s":1.24,"sl":1.12,"sh":1.36},{"org":8,"s":1.15,"sl":1.0,"sh":1.3},{"org":9,"s":1.07,"sl":0.88,"sh":1.27},{"org":10,"s":1.06,"sl":0.8,"sh":1.28},{"org":10.5,"s":1.07,"sl":0.82,"sh":1.3},{"org":11,"s":1.12,"sl":0.78,"sh":1.45},{"org":11.8,"s":1.24,"sl":0.68,"sh":1.8}],
"f2":[{"org":0,"f":0.73,"fl":0.67,"fh":0.79},{"org":4,"f":1.17,"fl":1.13,"fh":1.21},{"org":8,"f":1.6,"fl":1.52,"fh":1.68},{"org":11.8,"f":2.02,"fl":1.87,"fh":2.17}],
"s5":[{"org":0,"s":0.25,"sl":0.1,"sh":0.4},{"org":0.25,"s":0.6,"sl":0.47,"sh":0.73},{"org":0.5,"s":0.95,"sl":0.83,"sh":1.07},{"org":0.75,"s":1.25,"sl":1.13,"sh":1.37},{"org":1,"s":1.32,"sl":1.2,"sh":1.44},{"org":1.5,"s":1.48,"sl":1.36,"sh":1.6},{"org":2,"s":1.6,"sl":1.48,"sh":1.72},{"org":2.5,"s":1.7,"sl":1.57,"sh":1.83},{"org":3,"s":1.68,"sl":1.55,"sh":1.81},{"org":3.5,"s":1.6,"sl":1.47,"sh":1.73},{"org":4,"s":1.6,"sl":1.47,"sh":1.73},{"org":4.5,"s":1.72,"sl":1.59,"sh":1.85},{"org":5,"s":1.85,"sl":1.72,"sh":1.98},{"org":5.5,"s":1.98,"sl":1.84,"sh":2.12},{"org":6,"s":2.0,"sl":1.85,"sh":2.15},{"org":6.5,"s":2.02,"sl":1.87,"sh":2.17},{"org":7,"s":1.95,"sl":1.78,"sh":2.12},{"org":7.5,"s":1.85,"sl":1.65,"sh":2.05},{"org":8,"s":1.68,"sl":1.45,"sh":1.95},{"org":9,"s":1.6,"sl":1.3,"sh":1.95},{"org":10,"s":1.58,"sl":1.2,"sh":2.0},{"org":10.5,"s":1.6,"sl":1.2,"sh":2.05},{"org":11,"s":1.68,"sl":1.15,"sh":2.2},{"org":11.8,"s":1.8,"sl":0.95,"sh":2.65}],
"f5":[{"org":0,"f":0.96,"fl":0.87,"fh":1.05},{"org":4,"f":1.68,"fl":1.62,"fh":1.74},{"org":8,"f":2.38,"fl":2.26,"fh":2.5},{"org":11.8,"f":3.02,"fl":2.8,"fh":3.25}],
"s8":[{"org":0,"s":0.25,"sl":0.12,"sh":0.38},{"org":0.25,"s":0.55,"sl":0.44,"sh":0.66},{"org":0.5,"s":0.75,"sl":0.65,"sh":0.85},{"org":0.75,"s":0.9,"sl":0.8,"sh":1.0},{"org":1,"s":1.0,"sl":0.9,"sh":1.1},{"org":1.5,"s":1.15,"sl":1.05,"sh":1.25},{"org":2,"s":1.27,"sl":1.17,"sh":1.37},{"org":2.5,"s":1.32,"sl":1.22,"sh":1.42},{"org":3,"s":1.3,"sl":1.2,"sh":1.4},{"org":3.5,"s":1.27,"sl":1.17,"sh":1.37},{"org":4,"s":1.3,"sl":1.2,"sh":1.4},{"org":4.5,"s":1.42,"sl":1.31,"sh":1.53},{"org":5,"s":1.55,"sl":1.43,"sh":1.67},{"org":5.5,"s":1.62,"sl":1.5,"sh":1.74},{"org":6,"s":1.65,"sl":1.52,"sh":1.78},{"org":6.5,"s":1.66,"sl":1.52,"sh":1.8},{"org":7,"s":1.65,"sl":1.48,"sh":1.82},{"org":7.5,"s":1.62,"sl":1.42,"sh":1.82},{"org":8,"s":1.55,"sl":1.3,"sh":1.82},{"org":9,"s":1.45,"sl":1.1,"sh":1.85},{"org":10,"s":1.38,"sl":1.0,"sh":1.9},{"org":10.5,"s":1.42,"sl":1.0,"sh":1.95},{"org":11,"s":1.52,"sl":0.98,"sh":2.15},{"org":11.8,"s":1.68,"sl":0.9,"sh":2.6}],
"f8":[{"org":0,"f":0.66,"fl":0.58,"fh":0.74},{"org":4,"f":1.29,"fl":1.24,"fh":1.34},{"org":8,"f":1.9,"fl":1.8,"fh":2.0},{"org":11.8,"f":2.5,"fl":2.3,"fh":2.72}],
"s3":[{"org":0.05,"s":0.42,"sl":0.2,"sh":0.62},{"org":0.25,"s":0.8,"sl":0.62,"sh":0.98},{"org":0.5,"s":1.1,"sl":0.95,"sh":1.25},{"org":0.75,"s":1.33,"sl":1.18,"sh":1.48},{"org":1,"s":1.4,"sl":1.26,"sh":1.54},{"org":1.5,"s":1.45,"sl":1.32,"sh":1.58},{"org":2,"s":1.5,"sl":1.37,"sh":1.63},{"org":2.5,"s":1.52,"sl":1.38,"sh":1.66},{"org":3,"s":1.45,"sl":1.3,"sh":1.6},{"org":3.5,"s":1.43,"sl":1.28,"sh":1.58},{"org":4,"s":1.42,"sl":1.27,"sh":1.57},{"org":4.5,"s":1.5,"sl":1.34,"sh":1.66},{"org":5,"s":1.55,"sl":1.38,"sh":1.72},{"org":5.5,"s":1.6,"sl":1.4,"sh":1.8},{"org":6,"s":1.6,"sl":1.38,"sh":1.82},{"org":7,"s":1.55,"sl":1.25,"sh":1.85},{"org":8,"s":1.52,"sl":1.1,"sh":1.92},{"org":9,"s":1.48,"sl":0.88,"sh":2.0},{"org":9.5,"s":1.47,"sl":0.85,"sh":2.05},{"org":11,"s":1.48,"sl":0.85,"sh":2.1},{"org":12,"s":1.62,"sl":1.05,"sh":2.15}],
"f3":[{"org":0,"f":1.03,"fl":0.9,"fh":1.16},{"org":4,"f":1.45,"fl":1.37,"fh":1.53},{"org":8,"f":1.87,"fl":1.65,"fh":2.1},{"org":12,"f":2.3,"fl":2.0,"fh":2.6}],
"s6":[{"org":0.05,"s":0.55,"sl":0.25,"sh":0.85},{"org":0.25,"s":1.1,"sl":0.85,"sh":1.35},{"org":0.5,"s":1.7,"sl":1.47,"sh":1.93},{"org":0.75,"s":2.05,"sl":1.83,"sh":2.27},{"org":1,"s":2.2,"sl":1.98,"sh":2.42},{"org":1.5,"s":2.33,"sl":2.12,"sh":2.54},{"org":2,"s":2.42,"sl":2.2,"sh":2.64},{"org":2.5,"s":2.45,"sl":2.22,"sh":2.68},{"org":3,"s":2.35,"sl":2.1,"sh":2.6},{"org":3.5,"s":2.25,"sl":2.0,"sh":2.5},{"org":4,"s":2.22,"sl":1.97,"sh":2.47},{"org":4.5,"s":2.3,"sl":2.03,"sh":2.57},{"org":5,"s":2.45,"sl":2.15,"sh":2.75},{"org":5.5,"s":2.6,"sl":2.27,"sh":2.93},{"org":6,"s":2.65,"sl":2.3,"sh":3.0},{"org":7,"s":2.5,"sl":2.0,"sh":3.0},{"org":8,"s":2.35,"sl":1.7,"sh":3.0},{"org":9,"s":2.3,"sl":1.35,"sh":3.1},{"org":9.5,"s":2.3,"sl":1.3,"sh":3.1},{"org":11,"s":2.32,"sl":1.4,"sh":3.2},{"org":12,"s":2.45,"sl":1.5,"sh":3.3}],
"f6":[{"org":0,"f":1.55,"fl":1.35,"fh":1.75},{"org":4,"f":2.27,"fl":2.14,"fh":2.4},{"org":8,"f":2.98,"fl":2.65,"fh":3.3},{"org":12,"f":3.7,"fl":3.25,"fh":4.2}],
"s9":[{"org":0.05,"s":0.6,"sl":0.3,"sh":0.9},{"org":0.25,"s":1.1,"sl":0.85,"sh":1.35},{"org":0.5,"s":1.6,"sl":1.38,"sh":1.82},{"org":0.75,"s":1.95,"sl":1.73,"sh":2.17},{"org":1,"s":2.1,"sl":1.88,"sh":2.32},{"org":1.5,"s":2.25,"sl":2.03,"sh":2.47},{"org":2,"s":2.42,"sl":2.2,"sh":2.64},{"org":2.5,"s":2.5,"sl":2.25,"sh":2.75},{"org":3,"s":2.32,"sl":2.07,"sh":2.57},{"org":3.5,"s":2.2,"sl":1.95,"sh":2.45},{"org":4,"s":2.1,"sl":1.85,"sh":2.35},{"org":4.5,"s":2.1,"sl":1.82,"sh":2.38},{"org":5,"s":2.3,"sl":2.0,"sh":2.6},{"org":5.5,"s":2.45,"sl":2.12,"sh":2.78},{"org":6,"s":2.5,"sl":2.1,"sh":2.85},{"org":7,"s":2.35,"sl":1.85,"sh":2.85},{"org":8,"s":2.25,"sl":1.6,"sh":2.9},{"org":9,"s":2.2,"sl":1.42,"sh":3.0},{"org":9.5,"s":2.2,"sl":1.4,"sh":3.0},{"org":11,"s":2.38,"sl":1.6,"sh":3.3},{"org":12,"s":2.6,"sl":1.65,"sh":3.4}],
"f9":[{"org":0,"f":1.45,"fl":1.25,"fh":1.65},{"org":4,"f":2.2,"fl":2.05,"fh":2.35},{"org":8,"f":2.92,"fl":2.55,"fh":3.3},{"org":12,"f":3.65,"fl":3.15,"fh":4.2}]
},
"vconcat":[
{"width":1333,"height":93,"view":{"stroke":null},"data":{"values":[]},"mark":"point","encoding":{"x":{"field":"a","type":"quantitative","scale":{"domain":[0,1]},"axis":{"orient":"top","values":[],"labels":false,"ticks":false,"grid":false,"title":null,"domain":true,"domainColor":"#666","domainWidth":1.5}},"y":{"field":"b","type":"quantitative","scale":{"domain":[0,1]},"axis":{"values":[],"labels":false,"ticks":false,"grid":false,"title":null,"domain":true,"domainColor":"#666","domainWidth":1.5}}}},
{"bounds":"flush","spacing":0,"resolve":{"scale":{"color":"independent"},"legend":{"color":"independent"}},"hconcat":[
{"width":105,"height":110,"view":{"stroke":null},"data":{"values":[]},"mark":"point"},
{"width":260,"height":110,"title":{"text":"<30% humidity","font":"Lato","fontSize":22,"fontWeight":"normal","color":"#222","anchor":"middle","dx":6,"offset":42},"layer":[
{"data":{"name":"low"},"mark":{"type":"circle","size":58,"opacity":1},"encoding":{"x":{"field":"org","type":"quantitative","scale":{"domain":[-0.003,3.44],"nice":false,"zero":false},"axis":{"values":[0.5,1,1.5,2,2.5,3],"format":".1f","title":"Organic mass PM₂.₅ µgm-3","titleX":127,"titleY":50}},"y":{"field":"pm1","type":"quantitative","scale":{"domain":[-0.065,1.072],"nice":false,"zero":false},"axis":{"values":[0,0.2,0.4,0.6,0.8,1],"format":".1f","title":"A:FIDAS PM₁µgm⁻³","titleX":-51,"titleY":60}},"color":{"field":"rh","type":"quantitative","scale":{"domain":[26.57,30],"range":["#ffffc4","#fed976","#feb24c","#fd8d3c","#f03b20","#bd0026","#67001f"]},"legend":{"title":null,"legendX":292,"legendY":0,"format":".3~g","values":[27,27.5,28,28.5,29,29.5]}}}},
{"data":{"name":"s1"},"mark":{"type":"area","clip":true,"color":"#7a7a7a","opacity":0.42},"encoding":{"x":{"field":"org","type":"quantitative","axis":null},"y":{"field":"sl","type":"quantitative","axis":null},"y2":{"field":"sh"}}},
{"data":{"name":"f1"},"mark":{"type":"area","clip":true,"color":"#7a7a7a","opacity":0.42},"encoding":{"x":{"field":"org","type":"quantitative","axis":null},"y":{"field":"fl","type":"quantitative","axis":null},"y2":{"field":"fh"}}},
{"data":{"name":"f1"},"mark":{"type":"line","clip":true,"color":"#3f7fc4","strokeWidth":1.3},"encoding":{"x":{"field":"org","type":"quantitative","axis":{"orient":"top","values":[0.5,1,1.5,2,2.5,3],"labels":false,"grid":false,"title":null}},"y":{"field":"f","type":"quantitative","axis":{"orient":"right","values":[0,0.2,0.4,0.6,0.8,1],"labels":false,"grid":false,"title":null}}}},
{"data":{"name":"s1"},"mark":{"type":"line","clip":true,"color":"#111","strokeWidth":2},"encoding":{"x":{"field":"org","type":"quantitative","axis":null},"y":{"field":"s","type":"quantitative","axis":null}}},
{"data":{"values":[{"org":0.04,"val":0.98,"label":"NewGroupVar=0.31[Org]+0.079 R²=0.78"}]},"mark":{"type":"text","align":"left","baseline":"middle","fontSize":11,"color":"#222"},"encoding":{"x":{"field":"org","type":"quantitative","axis":null},"y":{"field":"val","type":"quantitative","axis":null},"text":{"field":"label"}}}
],"resolve":{"axis":{"x":"independent","y":"independent"}}},
{"width":169,"height":110,"view":{"stroke":null},"data":{"values":[]},"mark":"point"},
{"width":271,"height":110,"title":{"text":"30-85% humidity","font":"Lato","fontSize":22,"fontWeight":"normal","color":"#222","anchor":"middle","dx":-6,"offset":40},"layer":[
{"data":{"name":"mid"},"mark":{"type":"circle","size":68,"opacity":1},"encoding":{"x":{"field":"org","type":"quantitative","scale":{"domain":[-0.805,12.58],"nice":false,"zero":false},"axis":{"values":[0,2,4,6,8,10,12],"title":"Organic mass PM₂.₅ µgm-3","titleX":135,"titleY":50}},"y":{"field":"pm1","type":"quantitative","scale":{"domain":[-0.164,2.7],"nice":false,"zero":false},"axis":{"values":[0,0.5,1,1.5,2,2.5],"format":".1f","title":"A:FIDAS PM₁µgm⁻³","titleX":-56,"titleY":64}},"color":{"field":"rh","type":"quantitative","scale":{"domain":[30.5,85.5],"range":["#ffffc4","#fed976","#feb24c","#fd8d3c","#f03b20","#bd0026","#67001f"]},"legend":{"title":null,"legendX":303,"legendY":0,"format":".3~g","values":[40,50,60,70,80]}}}},
{"data":{"name":"s2"},"mark":{"type":"area","clip":true,"color":"#7a7a7a","opacity":0.42},"encoding":{"x":{"field":"org","type":"quantitative","axis":null},"y":{"field":"sl","type":"quantitative","axis":null},"y2":{"field":"sh"}}},
{"data":{"name":"f2"},"mark":{"type":"area","clip":true,"color":"#7a7a7a","opacity":0.42},"encoding":{"x":{"field":"org","type":"quantitative","axis":null},"y":{"field":"fl","type":"quantitative","axis":null},"y2":{"field":"fh"}}},
{"data":{"name":"f2"},"mark":{"type":"line","clip":true,"color":"#3f7fc4","strokeWidth":1.3},"encoding":{"x":{"field":"org","type":"quantitative","axis":{"orient":"top","values":[0,2,4,6,8,10,12],"labels":false,"grid":false,"title":null}},"y":{"field":"f","type":"quantitative","axis":{"orient":"right","values":[0,0.5,1,1.5,2,2.5],"labels":false,"grid":false,"title":null}}}},
{"data":{"name":"s2"},"mark":{"type":"line","clip":true,"color":"#111","strokeWidth":2},"encoding":{"x":{"field":"org","type":"quantitative","axis":null},"y":{"field":"s","type":"quantitative","axis":null}}},
{"data":{"values":[{"org":-0.62,"val":2.46,"label":"NewGroupVar=0.11[Org]+0.73 R²=0.2"}]},"mark":{"type":"text","align":"left","baseline":"middle","fontSize":11,"color":"#222"},"encoding":{"x":{"field":"org","type":"quantitative","axis":null},"y":{"field":"val","type":"quantitative","axis":null},"text":{"field":"label"}}}
],"resolve":{"axis":{"x":"independent","y":"independent"}}},
{"width":138,"height":110,"view":{"stroke":null},"data":{"values":[]},"mark":"point"},
{"width":283,"height":110,"title":{"text":">85% humidity","font":"Lato","fontSize":22,"fontWeight":"normal","color":"#222","anchor":"middle","dx":-20,"offset":41},"layer":[
{"data":{"name":"high"},"mark":{"type":"circle","size":68,"opacity":1},"encoding":{"x":{"field":"org","type":"quantitative","scale":{"domain":[-0.83,12.8],"nice":false,"zero":false},"axis":{"values":[0,2,4,6,8,10,12],"title":"Organic mass PM₂.₅ µgm-3","titleX":139,"titleY":50}},"y":{"field":"pm1","type":"quantitative","scale":{"domain":[-0.24,3.99],"nice":false,"zero":false},"axis":{"values":[0,1,2,3],"title":"A:FIDAS PM₁µgm⁻³","titleX":-42,"titleY":70}},"color":{"field":"rh","type":"quantitative","scale":{"domain":[85.2,100],"range":["#ffffc4","#fed976","#feb24c","#fd8d3c","#f03b20","#bd0026","#67001f"]},"legend":{"title":null,"legendX":314,"legendY":0,"format":".3~g","values":[86,88,90,92,94,96,98]}}}},
{"data":{"name":"s3"},"mark":{"type":"area","clip":true,"color":"#7a7a7a","opacity":0.42},"encoding":{"x":{"field":"org","type":"quantitative","axis":null},"y":{"field":"sl","type":"quantitative","axis":null},"y2":{"field":"sh"}}},
{"data":{"name":"f3"},"mark":{"type":"area","clip":true,"color":"#7a7a7a","opacity":0.42},"encoding":{"x":{"field":"org","type":"quantitative","axis":null},"y":{"field":"fl","type":"quantitative","axis":null},"y2":{"field":"fh"}}},
{"data":{"name":"f3"},"mark":{"type":"line","clip":true,"color":"#3f7fc4","strokeWidth":1.3},"encoding":{"x":{"field":"org","type":"quantitative","axis":{"orient":"top","values":[0,2,4,6,8,10,12],"labels":false,"grid":false,"title":null}},"y":{"field":"f","type":"quantitative","axis":{"orient":"right","values":[0,1,2,3],"labels":false,"grid":false,"title":null}}}},
{"data":{"name":"s3"},"mark":{"type":"line","clip":true,"color":"#111","strokeWidth":2},"encoding":{"x":{"field":"org","type":"quantitative","axis":null},"y":{"field":"s","type":"quantitative","axis":null}}},
{"data":{"values":[{"org":-0.59,"val":3.64,"label":"NewGroupVar=0.11[Org]+1 R²=0.12"}]},"mark":{"type":"text","align":"left","baseline":"middle","fontSize":11,"color":"#222"},"encoding":{"x":{"field":"org","type":"quantitative","axis":null},"y":{"field":"val","type":"quantitative","axis":null},"text":{"field":"label"}}}
],"resolve":{"axis":{"x":"independent","y":"independent"}}}
]},
{"width":10,"height":217,"view":{"stroke":null},"data":{"values":[]},"mark":"point","encoding":{"y":{"field":"b","type":"quantitative","scale":{"domain":[0,1]},"axis":{"values":[],"labels":false,"ticks":false,"grid":false,"title":null,"domain":true,"domainColor":"#666","domainWidth":1.5}}}},
{"bounds":"flush","spacing":0,"resolve":{"scale":{"color":"independent"},"legend":{"color":"independent"}},"hconcat":[
{"width":107,"height":109,"view":{"stroke":null},"data":{"values":[]},"mark":"point"},
{"width":260,"height":109,"layer":[
{"data":{"name":"low"},"mark":{"type":"circle","size":58,"opacity":1},"encoding":{"x":{"field":"org","type":"quantitative","scale":{"domain":[0.003,3.43],"nice":false,"zero":false},"axis":{"values":[0.5,1,1.5,2,2.5,3],"format":".1f","title":"Organic PM₂.₅ mass µgm-3","titleX":127,"titleY":51}},"y":{"field":"pm25","type":"quantitative","scale":{"domain":[0.054,1.527],"nice":false,"zero":false},"axis":{"values":[0.5,1],"format":".1f","title":"A:FIDAS PM₂.₅µgm⁻³","titleX":-51,"titleY":77}},"color":{"field":"rh","type":"quantitative","scale":{"domain":[26.57,30],"range":["#ffffc4","#fed976","#feb24c","#fd8d3c","#f03b20","#bd0026","#67001f"]},"legend":{"title":null,"legendX":292,"legendY":0,"format":".3~g","gradientLength":109,"values":[27,27.5,28,28.5,29,29.5]}}}},
{"data":{"name":"s4"},"mark":{"type":"area","clip":true,"color":"#7a7a7a","opacity":0.42},"encoding":{"x":{"field":"org","type":"quantitative","axis":null},"y":{"field":"sl","type":"quantitative","axis":null},"y2":{"field":"sh"}}},
{"data":{"name":"f4"},"mark":{"type":"area","clip":true,"color":"#7a7a7a","opacity":0.42},"encoding":{"x":{"field":"org","type":"quantitative","axis":null},"y":{"field":"fl","type":"quantitative","axis":null},"y2":{"field":"fh"}}},
{"data":{"name":"f4"},"mark":{"type":"line","clip":true,"color":"#3f7fc4","strokeWidth":1.3},"encoding":{"x":{"field":"org","type":"quantitative","axis":{"orient":"top","values":[0.5,1,1.5,2,2.5,3],"labels":false,"grid":false,"title":null}},"y":{"field":"f","type":"quantitative","axis":{"orient":"right","values":[0.5,1],"labels":false,"grid":false,"title":null}}}},
{"data":{"name":"s4"},"mark":{"type":"line","clip":true,"color":"#111","strokeWidth":2},"encoding":{"x":{"field":"org","type":"quantitative","axis":null},"y":{"field":"s","type":"quantitative","axis":null}}},
{"data":{"values":[{"org":0.056,"val":1.42,"label":"NewGroupVar=0.39[Org]+0.14 R²=0.9"}]},"mark":{"type":"text","align":"left","baseline":"middle","fontSize":11,"color":"#222"},"encoding":{"x":{"field":"org","type":"quantitative","axis":null},"y":{"field":"val","type":"quantitative","axis":null},"text":{"field":"label"}}}
],"resolve":{"axis":{"x":"independent","y":"independent"}}},
{"width":152,"height":109,"view":{"stroke":null},"data":{"values":[]},"mark":"point"},
{"width":283,"height":109,"layer":[
{"data":{"name":"mid"},"mark":{"type":"circle","size":68,"opacity":1},"encoding":{"x":{"field":"org","type":"quantitative","scale":{"domain":[-0.806,12.6],"nice":false,"zero":false},"axis":{"values":[0,2,4,6,8,10,12],"title":"Organic PM₂.₅ mass µgm-3","titleX":139,"titleY":51}},"y":{"field":"pm25","type":"quantitative","scale":{"domain":[-0.2,3.69],"nice":false,"zero":false},"axis":{"values":[0,1,2,3],"title":"A:FIDAS PM₂.₅µgm⁻³","titleX":-45,"titleY":77}},"color":{"field":"rh","type":"quantitative","scale":{"domain":[30.5,85.5],"range":["#ffffc4","#fed976","#feb24c","#fd8d3c","#f03b20","#bd0026","#67001f"]},"legend":{"title":null,"legendX":314,"legendY":0,"format":".3~g","gradientLength":109,"values":[40,50,60,70,80]}}}},
{"data":{"name":"s5"},"mark":{"type":"area","clip":true,"color":"#7a7a7a","opacity":0.42},"encoding":{"x":{"field":"org","type":"quantitative","axis":null},"y":{"field":"sl","type":"quantitative","axis":null},"y2":{"field":"sh"}}},
{"data":{"name":"f5"},"mark":{"type":"area","clip":true,"color":"#7a7a7a","opacity":0.42},"encoding":{"x":{"field":"org","type":"quantitative","axis":null},"y":{"field":"fl","type":"quantitative","axis":null},"y2":{"field":"fh"}}},
{"data":{"name":"f5"},"mark":{"type":"line","clip":true,"color":"#3f7fc4","strokeWidth":1.3},"encoding":{"x":{"field":"org","type":"quantitative","axis":{"orient":"top","values":[0,2,4,6,8,10,12],"labels":false,"grid":false,"title":null}},"y":{"field":"f","type":"quantitative","axis":{"orient":"right","values":[0,1,2,3],"labels":false,"grid":false,"title":null}}}},
{"data":{"name":"s5"},"mark":{"type":"line","clip":true,"color":"#111","strokeWidth":2},"encoding":{"x":{"field":"org","type":"quantitative","axis":null},"y":{"field":"s","type":"quantitative","axis":null}}},
{"data":{"values":[{"org":-0.57,"val":3.4,"label":"NewGroupVar=0.18[Org]+0.94 R²=0.24"}]},"mark":{"type":"text","align":"left","baseline":"middle","fontSize":11,"color":"#222"},"encoding":{"x":{"field":"org","type":"quantitative","axis":null},"y":{"field":"val","type":"quantitative","axis":null},"text":{"field":"label"}}}
],"resolve":{"axis":{"x":"independent","y":"independent"}}},
{"width":141,"height":109,"view":{"stroke":null},"data":{"values":[]},"mark":"point"},
{"width":283,"height":109,"layer":[
{"data":{"name":"high"},"mark":{"type":"circle","size":68,"opacity":1},"encoding":{"x":{"field":"org","type":"quantitative","scale":{"domain":[-0.83,12.8],"nice":false,"zero":false},"axis":{"values":[0,2,4,6,8,10,12],"title":"Organic PM₂.₅ mass µgm-3","titleX":139,"titleY":51}},"y":{"field":"pm25","type":"quantitative","scale":{"domain":[-0.33,5.96],"nice":false,"zero":false},"axis":{"values":[0,1,2,3,4,5],"title":"A:FIDAS PM₂.₅µgm⁻³","titleX":-40,"titleY":83}},"color":{"field":"rh","type":"quantitative","scale":{"domain":[85.2,100],"range":["#ffffc4","#fed976","#feb24c","#fd8d3c","#f03b20","#bd0026","#67001f"]},"legend":{"title":null,"legendX":314,"legendY":0,"format":".3~g","gradientLength":109,"values":[86,88,90,92,94,96,98]}}}},
{"data":{"name":"s6"},"mark":{"type":"area","clip":true,"color":"#7a7a7a","opacity":0.42},"encoding":{"x":{"field":"org","type":"quantitative","axis":null},"y":{"field":"sl","type":"quantitative","axis":null},"y2":{"field":"sh"}}},
{"data":{"name":"f6"},"mark":{"type":"area","clip":true,"color":"#7a7a7a","opacity":0.42},"encoding":{"x":{"field":"org","type":"quantitative","axis":null},"y":{"field":"fl","type":"quantitative","axis":null},"y2":{"field":"fh"}}},
{"data":{"name":"f6"},"mark":{"type":"line","clip":true,"color":"#3f7fc4","strokeWidth":1.3},"encoding":{"x":{"field":"org","type":"quantitative","axis":{"orient":"top","values":[0,2,4,6,8,10,12],"labels":false,"grid":false,"title":null}},"y":{"field":"f","type":"quantitative","axis":{"orient":"right","values":[0,1,2,3,4,5],"labels":false,"grid":false,"title":null}}}},
{"data":{"name":"s6"},"mark":{"type":"line","clip":true,"color":"#111","strokeWidth":2},"encoding":{"x":{"field":"org","type":"quantitative","axis":null},"y":{"field":"s","type":"quantitative","axis":null}}},
{"data":{"values":[{"org":-0.58,"val":5.5,"label":"NewGroupVar=0.18[Org]+1.6 R²=0.12"}]},"mark":{"type":"text","align":"left","baseline":"middle","fontSize":11,"color":"#222"},"encoding":{"x":{"field":"org","type":"quantitative","axis":null},"y":{"field":"val","type":"quantitative","axis":null},"text":{"field":"label"}}}
],"resolve":{"axis":{"x":"independent","y":"independent"}}}
]},
{"width":10,"height":231,"view":{"stroke":null},"data":{"values":[]},"mark":"point","encoding":{"y":{"field":"b","type":"quantitative","scale":{"domain":[0,1]},"axis":{"values":[],"labels":false,"ticks":false,"grid":false,"title":null,"domain":true,"domainColor":"#666","domainWidth":1.5}}}},
{"bounds":"flush","spacing":0,"resolve":{"scale":{"color":"independent"},"legend":{"color":"independent"}},"hconcat":[
{"width":110,"height":109,"view":{"stroke":null},"data":{"values":[]},"mark":"point"},
{"width":261,"height":109,"layer":[
{"data":{"name":"low"},"mark":{"type":"circle","size":58,"opacity":1},"encoding":{"x":{"field":"org","type":"quantitative","scale":{"domain":[0.003,3.44],"nice":false,"zero":false},"axis":{"values":[0.5,1,1.5,2,2.5,3],"format":".1f","title":"Organic PM₂.₅ mass µgm-3","titleX":128,"titleY":50}},"y":{"field":"pm10","type":"quantitative","scale":{"domain":[0.07,1.017],"nice":false,"zero":false},"axis":{"values":[0.2,0.4,0.6,0.8],"format":".1f","title":"A:FIDAS PM₁₀µgm⁻³","titleX":-56,"titleY":76}},"color":{"field":"rh","type":"quantitative","scale":{"domain":[26.57,30],"range":["#ffffc4","#fed976","#feb24c","#fd8d3c","#f03b20","#bd0026","#67001f"]},"legend":{"title":null,"legendX":292,"legendY":0,"format":".3~g","gradientLength":109,"values":[27,27.5,28,28.5,29,29.5]}}}},
{"data":{"name":"s7"},"mark":{"type":"area","clip":true,"color":"#7a7a7a","opacity":0.42},"encoding":{"x":{"field":"org","type":"quantitative","axis":null},"y":{"field":"sl","type":"quantitative","axis":null},"y2":{"field":"sh"}}},
{"data":{"name":"f7"},"mark":{"type":"area","clip":true,"color":"#7a7a7a","opacity":0.42},"encoding":{"x":{"field":"org","type":"quantitative","axis":null},"y":{"field":"fl","type":"quantitative","axis":null},"y2":{"field":"fh"}}},
{"data":{"name":"f7"},"mark":{"type":"line","clip":true,"color":"#3f7fc4","strokeWidth":1.3},"encoding":{"x":{"field":"org","type":"quantitative","axis":{"orient":"top","values":[0.5,1,1.5,2,2.5,3],"labels":false,"grid":false,"title":null}},"y":{"field":"f","type":"quantitative","axis":{"orient":"right","values":[0.2,0.4,0.6,0.8],"labels":false,"grid":false,"title":null}}}},
{"data":{"name":"s7"},"mark":{"type":"line","clip":true,"color":"#111","strokeWidth":2},"encoding":{"x":{"field":"org","type":"quantitative","axis":null},"y":{"field":"s","type":"quantitative","axis":null}}},
{"data":{"values":[{"org":0.065,"val":0.948,"label":"NewGroupVar=0.28[Org]+0.047 R²=0.91"}]},"mark":{"type":"text","align":"left","baseline":"middle","fontSize":11,"color":"#222"},"encoding":{"x":{"field":"org","type":"quantitative","axis":null},"y":{"field":"val","type":"quantitative","axis":null},"text":{"field":"label"}}}
],"resolve":{"axis":{"x":"independent","y":"independent"}}},
{"width":152,"height":109,"view":{"stroke":null},"data":{"values":[]},"mark":"point"},
{"width":283,"height":109,"layer":[
{"data":{"name":"mid"},"mark":{"type":"circle","size":68,"opacity":1},"encoding":{"x":{"field":"org","type":"quantitative","scale":{"domain":[-0.83,12.6],"nice":false,"zero":false},"axis":{"values":[0,2,4,6,8,10,12],"title":"Organic PM₂.₅ mass µgm-3","titleX":138,"titleY":50}},"y":{"field":"pm10","type":"quantitative","scale":{"domain":[-0.2,3.56],"nice":false,"zero":false},"axis":{"values":[0,1,2,3],"title":"A:FIDAS PM₁₀µgm⁻³","titleX":-42,"titleY":77}},"color":{"field":"rh","type":"quantitative","scale":{"domain":[30.5,85.5],"range":["#ffffc4","#fed976","#feb24c","#fd8d3c","#f03b20","#bd0026","#67001f"]},"legend":{"title":null,"legendX":314,"legendY":0,"format":".3~g","gradientLength":109,"values":[40,50,60,70,80]}}}},
{"data":{"name":"s8"},"mark":{"type":"area","clip":true,"color":"#7a7a7a","opacity":0.42},"encoding":{"x":{"field":"org","type":"quantitative","axis":null},"y":{"field":"sl","type":"quantitative","axis":null},"y2":{"field":"sh"}}},
{"data":{"name":"f8"},"mark":{"type":"area","clip":true,"color":"#7a7a7a","opacity":0.42},"encoding":{"x":{"field":"org","type":"quantitative","axis":null},"y":{"field":"fl","type":"quantitative","axis":null},"y2":{"field":"fh"}}},
{"data":{"name":"f8"},"mark":{"type":"line","clip":true,"color":"#3f7fc4","strokeWidth":1.3},"encoding":{"x":{"field":"org","type":"quantitative","axis":{"orient":"top","values":[0,2,4,6,8,10,12],"labels":false,"grid":false,"title":null}},"y":{"field":"f","type":"quantitative","axis":{"orient":"right","values":[0,1,2,3],"labels":false,"grid":false,"title":null}}}},
{"data":{"name":"s8"},"mark":{"type":"line","clip":true,"color":"#111","strokeWidth":2},"encoding":{"x":{"field":"org","type":"quantitative","axis":null},"y":{"field":"s","type":"quantitative","axis":null}}},
{"data":{"values":[{"org":-0.6,"val":3.29,"label":"NewGroupVar=0.16[Org]+0.67 R²=0.25"}]},"mark":{"type":"text","align":"left","baseline":"middle","fontSize":11,"color":"#222"},"encoding":{"x":{"field":"org","type":"quantitative","axis":null},"y":{"field":"val","type":"quantitative","axis":null},"text":{"field":"label"}}}
],"resolve":{"axis":{"x":"independent","y":"independent"}}},
{"width":137,"height":109,"view":{"stroke":null},"data":{"values":[]},"mark":"point"},
{"width":283,"height":109,"layer":[
{"data":{"name":"high"},"mark":{"type":"circle","size":68,"opacity":1},"encoding":{"x":{"field":"org","type":"quantitative","scale":{"domain":[-0.83,12.8],"nice":false,"zero":false},"axis":{"values":[0,2,4,6,8,10,12],"title":"Organic PM₂.₅ mass µgm-3","titleX":139,"titleY":50}},"y":{"field":"pm10","type":"quantitative","scale":{"domain":[-0.3,5.49],"nice":false,"zero":false},"axis":{"values":[0,1,2,3,4,5],"title":"A:FIDAS PM₁₀µgm⁻³","titleX":-44,"titleY":77}},"color":{"field":"rh","type":"quantitative","scale":{"domain":[85.2,100],"range":["#ffffc4","#fed976","#feb24c","#fd8d3c","#f03b20","#bd0026","#67001f"]},"legend":{"title":null,"legendX":314,"legendY":0,"format":".3~g","gradientLength":109,"values":[86,88,90,92,94,96,98]}}}},
{"data":{"name":"s9"},"mark":{"type":"area","clip":true,"color":"#7a7a7a","opacity":0.42},"encoding":{"x":{"field":"org","type":"quantitative","axis":null},"y":{"field":"sl","type":"quantitative","axis":null},"y2":{"field":"sh"}}},
{"data":{"name":"f9"},"mark":{"type":"area","clip":true,"color":"#7a7a7a","opacity":0.42},"encoding":{"x":{"field":"org","type":"quantitative","axis":null},"y":{"field":"fl","type":"quantitative","axis":null},"y2":{"field":"fh"}}},
{"data":{"name":"f9"},"mark":{"type":"line","clip":true,"color":"#3f7fc4","strokeWidth":1.3},"encoding":{"x":{"field":"org","type":"quantitative","axis":{"orient":"top","values":[0,2,4,6,8,10,12],"labels":false,"grid":false,"title":null}},"y":{"field":"f","type":"quantitative","axis":{"orient":"right","values":[0,1,2,3,4,5],"labels":false,"grid":false,"title":null}}}},
{"data":{"name":"s9"},"mark":{"type":"line","clip":true,"color":"#111","strokeWidth":2},"encoding":{"x":{"field":"org","type":"quantitative","axis":null},"y":{"field":"s","type":"quantitative","axis":null}}},
{"data":{"values":[{"org":-0.58,"val":5.05,"label":"NewGroupVar=0.18[Org]+1.5 R²=0.12"}]},"mark":{"type":"text","align":"left","baseline":"middle","fontSize":11,"color":"#222"},"encoding":{"x":{"field":"org","type":"quantitative","axis":null},"y":{"field":"val","type":"quantitative","axis":null},"text":{"field":"label"}}}
],"resolve":{"axis":{"x":"independent","y":"independent"}}}
]},
{"width":1333,"height":261,"view":{"stroke":null},"layer":[
{"data":{"values":[{"line":1,"text":"FIGURE 6 |"}]},"mark":{"type":"text","align":"left","baseline":"middle","dx":16,"fontSize":18.4,"fontWeight":"bold","color":"#111"},"encoding":{"x":{"datum":0,"type":"quantitative","scale":{"domain":[0,1],"nice":false},"axis":null},"y":{"field":"line","type":"quantitative","scale":{"domain":[-7.8,2.64],"reverse":true,"nice":false,"zero":false},"axis":{"orient":"left","values":[],"labels":false,"ticks":false,"grid":false,"title":null,"domain":true,"domainColor":"#666","domainWidth":1.5}},"text":{"field":"text"}}},
{"data":{"values":[{"line":1,"text":"Examples of Altasense PM/reference PM concentrations from sensor A by organic concentrations from ACSM by humidity at different humidity"}]},"mark":{"type":"text","align":"left","baseline":"middle","dx":119,"fontSize":18.4,"color":"#222"},"encoding":{"x":{"datum":0,"type":"quantitative"},"y":{"field":"line","type":"quantitative"},"text":{"field":"text"}}},
{"data":{"values":[{"line":2,"text":"intervals. Linear equation of ratio by organic mass concentration is shown on the plot."}]},"mark":{"type":"text","align":"left","baseline":"middle","dx":16,"fontSize":18.4,"color":"#222"},"encoding":{"x":{"datum":0,"type":"quantitative"},"y":{"field":"line","type":"quantitative"},"text":{"field":"text"}}}
]}
]}
